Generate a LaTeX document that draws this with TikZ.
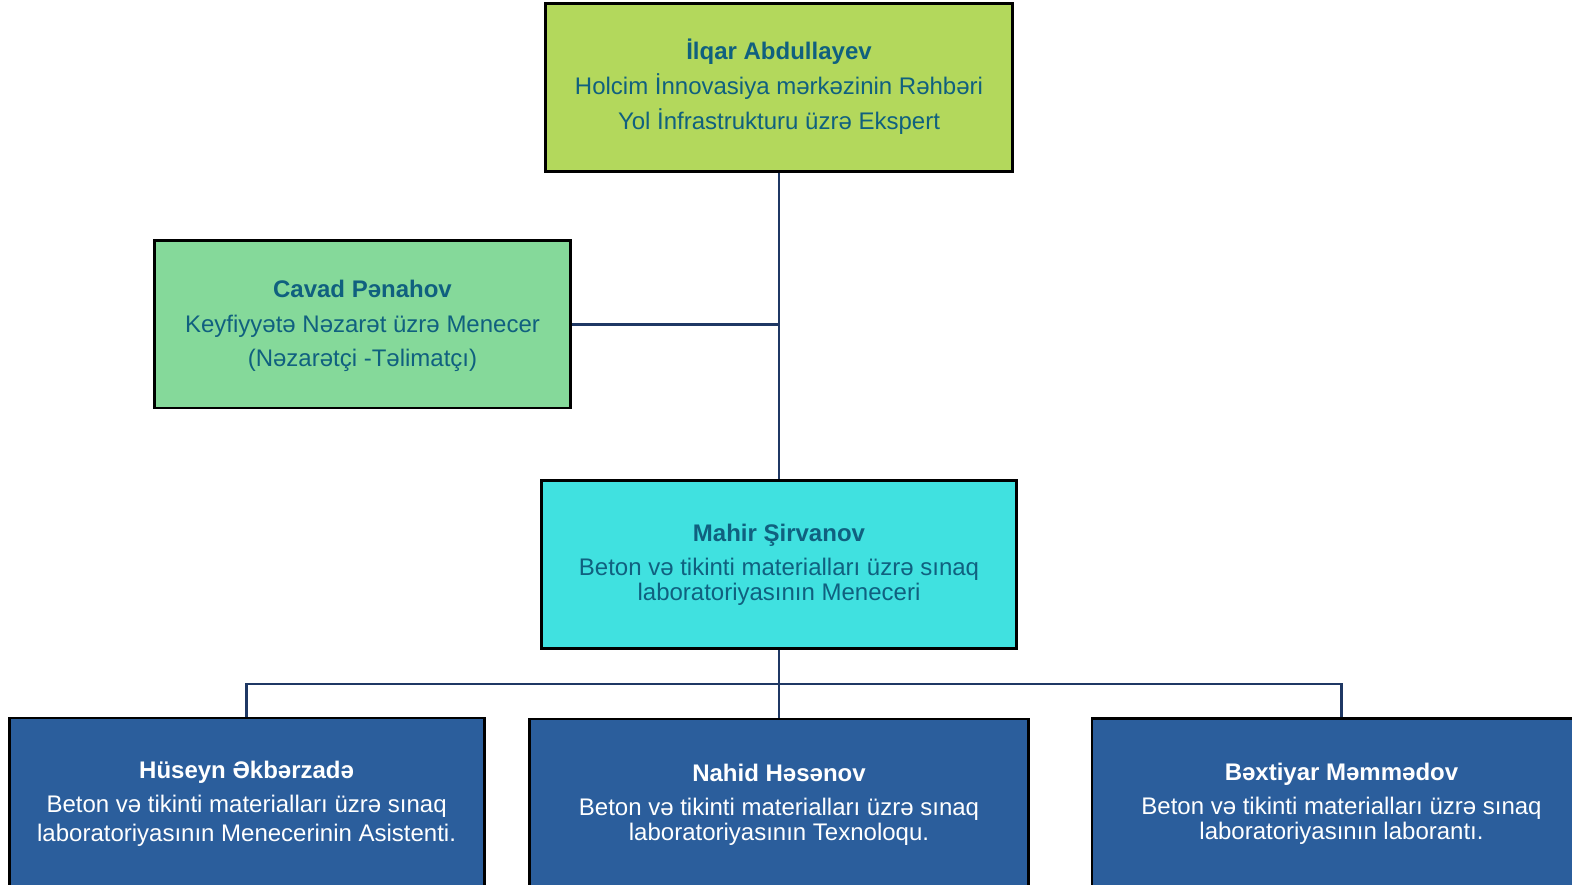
\documentclass[tikz,border=0pt]{standalone}
\usepackage{fontspec}
\setmainfont{Liberation Sans}
\definecolor{limebox}{HTML}{B3D85C}
\definecolor{greenbox}{HTML}{85D99A}
\definecolor{cyanbox}{HTML}{40E1E0}
\definecolor{bluebox}{HTML}{2B5E9C}
\definecolor{tealtext}{HTML}{10607F}
\definecolor{navyline}{HTML}{1F3864}
\begin{document}
\begin{tikzpicture}[x=0.5pt,y=-0.5pt,
  box/.style={draw=black, line width=1.4pt, inner sep=0pt, rectangle},
  txt/.style={align=center, inner sep=0pt, font=\fontsize{12pt}{17.4pt}\selectfont},
  midtxt/.style={align=center, inner sep=0pt, font=\fontsize{12pt}{14.5pt}\selectfont},
  tighttxt/.style={align=center, inner sep=0pt, font=\fontsize{12pt}{12.3pt}\selectfont},
  conn/.style={draw=navyline, line width=1.2pt}]
\useasboundingbox (0,0) rectangle (1572,884);
\clip (0,0) rectangle (1572,884);
\node[box, fill=limebox, minimum width=233.5pt, minimum height=84pt] (top) at (779,87.2) {};
\node[box, fill=greenbox, minimum width=208pt, minimum height=83.7pt] (qc) at (362.5,324.3) {};
\node[box, fill=cyanbox, minimum width=237.5pt, minimum height=84.2pt] (mgr) at (779,564.5) {};
\node[box, fill=bluebox, minimum width=237.5pt, minimum height=100pt] (hl) at (246.6,818) {};
\node[box, fill=bluebox, minimum width=249.5pt, minimum height=100pt] (hm) at (779,819) {};
\node[box, fill=bluebox, minimum width=249.5pt, minimum height=100pt] (hr) at (1341.5,818.5) {};
\coordinate (bus) at (779,683.8);
\draw[conn] (top.south) -- (mgr.north);
\draw[conn] (qc.east) -- (qc.east -| top.south);
\draw[conn] (mgr.south) -- (hm.north);
\draw[conn] (hl.north) -- (hl.north |- bus) -- (hr.north |- bus) -- (hr.north);
\node[txt, text=tealtext] (ttop) at (779,86.5) {\textbf{İlqar Abdullayev}\\Holcim İnnovasiya mərkəzinin Rəhbəri\\Yol İnfrastrukturu üzrə Ekspert};
\node[txt, text=tealtext] (tqc) at (362.5,326) {\textbf{Cavad Pənahov}\\Keyfiyyətə Nəzarət üzrə Menecer\\(Nəzarətçi -Təlimatçı)};
\node[tighttxt, text=tealtext] (tmgr) at (779,564.5) {\textbf{Mahir Şirvanov}\\[4.7pt]Beton və tikinti materialları üzrə sınaq\\laboratoriyasının Meneceri};
\node[midtxt, text=white] (thl) at (246.6,804) {\textbf{Hüseyn Əkbərzadə}\\[2.5pt]Beton və tikinti materialları üzrə sınaq\\laboratoriyasının Menecerinin Asistenti.};
\node[tighttxt, text=white] (thm) at (779,804.5) {\textbf{Nahid Həsənov}\\[4.7pt]Beton və tikinti materialları üzrə sınaq\\laboratoriyasının Texnoloqu.};
\node[tighttxt, text=white] (thr) at (1341.5,804) {\textbf{Bəxtiyar Məmmədov}\\[4.7pt]Beton və tikinti materialları üzrə sınaq\\laboratoriyasının laborantı.};
\end{tikzpicture}
\end{document}
